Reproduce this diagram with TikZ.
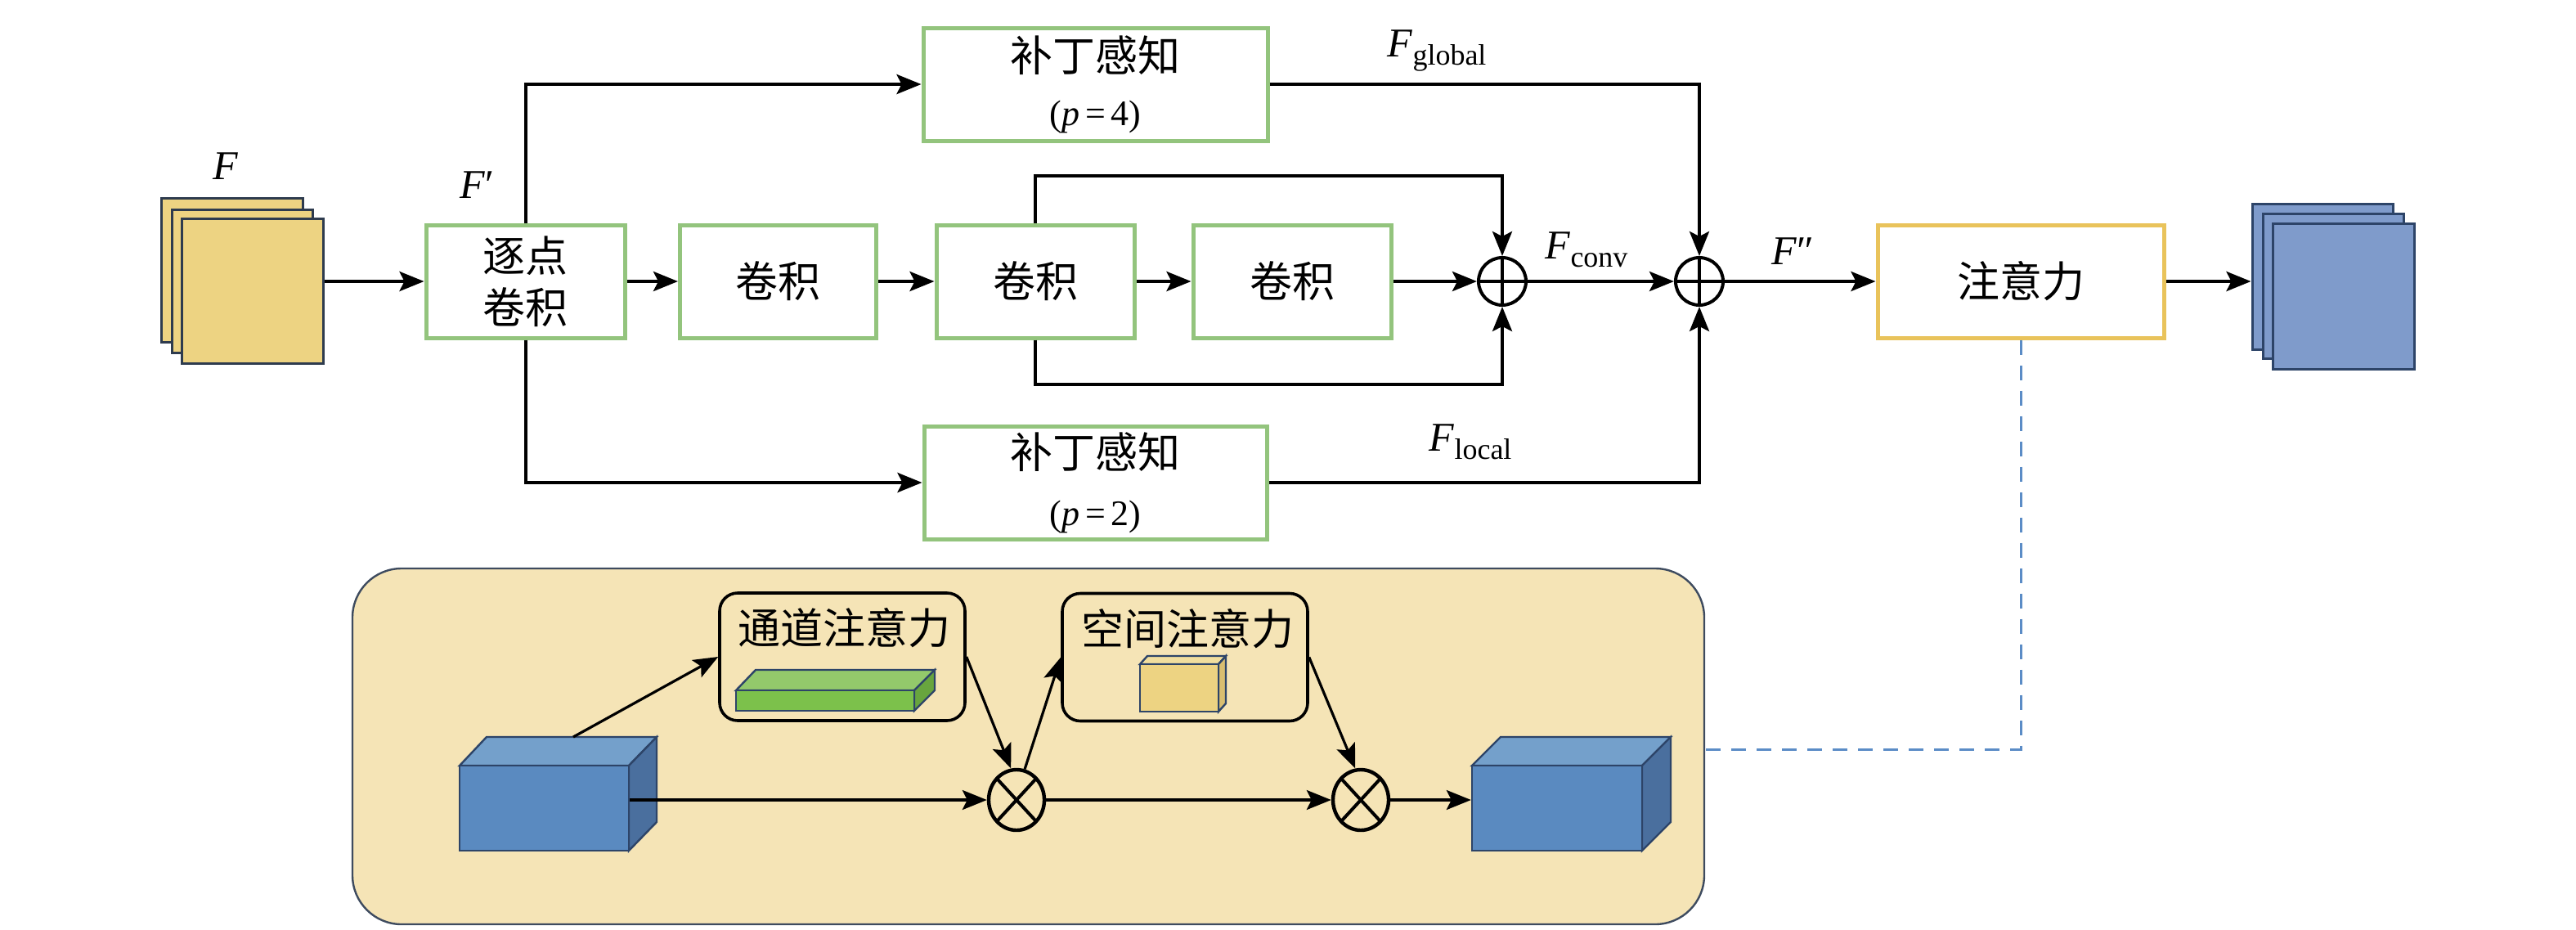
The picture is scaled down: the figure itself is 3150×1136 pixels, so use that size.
\documentclass[tikz,border=0pt]{standalone}
\usepackage{fontspec}
\setmainfont{Liberation Serif}
\newfontfamily\cjk{Noto Sans CJK SC}
\usetikzlibrary{arrows.meta,shapes.geometric,calc}
\definecolor{sheetYf}{HTML}{EDD382}
\definecolor{sheetYd}{HTML}{2E3B4E}
\definecolor{sheetBf}{HTML}{7F9BCB}
\definecolor{sheetBd}{HTML}{2D4468}
\definecolor{boxgreen}{HTML}{93C47D}
\definecolor{boxyellow}{HTML}{E9C35B}
\definecolor{bigfill}{HTML}{F5E4B6}
\definecolor{bigdraw}{HTML}{3E4B5F}
\definecolor{cubeF}{HTML}{5A8AC0}
\definecolor{cubeT}{HTML}{74A0CB}
\definecolor{cubeS}{HTML}{4A6F9E}
\definecolor{cubeE}{HTML}{2D4468}
\definecolor{slabF}{HTML}{7CC14B}
\definecolor{slabT}{HTML}{93C96B}
\definecolor{slabS}{HTML}{68A53E}
\definecolor{ycF}{HTML}{EDD382}
\definecolor{ycT}{HTML}{F1DE9E}
\definecolor{ycS}{HTML}{D9BE70}
\definecolor{dashblue}{HTML}{5B8CC6}
\begin{document}
\begin{tikzpicture}[x=0.5pt,y=-0.5pt,
  arr/.style={line width=2pt,-{Stealth[length=15pt,width=12pt,inset=3pt]}},
  arrb/.style={line width=1.6pt,-{Stealth[length=15pt,width=12pt,inset=3pt]}},
  gbox/.style={draw=boxgreen,line width=2.5pt,fill=white,minimum height=69pt,inner sep=0pt,align=center,font=\fontsize{26}{32}\selectfont\cjk},
  abox/.style={draw=boxyellow,line width=2.5pt,fill=white,minimum height=69pt,minimum width=175pt,inner sep=0pt,font=\fontsize{26}{32}\selectfont\cjk},
  sheetY/.style={draw=sheetYd,fill=sheetYf,line width=1.5pt,inner sep=0pt},
  sheetB/.style={draw=sheetBd,fill=sheetBf,line width=1.5pt,inner sep=0pt},
  oplus/.style={circle,draw,line width=2pt,minimum size=29pt,inner sep=0pt,
    path picture={\draw[line width=2pt] (path picture bounding box.north) -- (path picture bounding box.south) (path picture bounding box.west) -- (path picture bounding box.east);}},
  otimes/.style={ellipse,draw,line width=2.2pt,minimum width=34pt,minimum height=37pt,inner sep=0pt,
    path picture={\draw[line width=2pt] (path picture bounding box.north west) -- (path picture bounding box.south east) (path picture bounding box.north east) -- (path picture bounding box.south west);}},
  rbox/.style={draw=black,line width=1.8pt,rounded corners=11pt,minimum width=150pt,minimum height=78pt,inner sep=0pt},
  lab/.style={font=\fontsize{25}{30}\selectfont,inner sep=0pt},
  cjklab/.style={font=\fontsize{26}{32}\selectfont\cjk,inner sep=0pt},
  dashline/.style={draw=dashblue,line width=1.5pt,dash pattern=on 9pt off 6.5pt},
  cubeface/.style={draw=cubeE,line width=1.2pt}
]
\useasboundingbox (0,0) rectangle (3150,1136);
\fill[white] (0,0) rectangle (3150,1136);

% ---------- upper pipeline ----------
\node[sheetY,minimum width=86.5pt,minimum height=88pt] (fb) at (283.5,330) {};
\node[sheetY,minimum width=86pt,minimum height=87.5pt] (fm) at (296,343.5) {};
\node[sheetY,minimum width=86.5pt,minimum height=88.5pt] (ff) at (308.5,355.5) {};
\node[lab] (lF) at (276,203) {\textit{F}};

\node[gbox,minimum width=121.5pt,font=\fontsize{26}{31.5}\selectfont\cjk] (pw) at (642.5,344) {逐点\\卷积};
\node[lab] (lFp) at (583,226) {\textit{F}′};
\node[gbox,minimum width=120pt] (c1) at (951.5,344) {卷积};
\node[gbox,minimum width=121pt] (c2) at (1266,344) {卷积};
\node[gbox,minimum width=121pt] (c3) at (1580,344) {卷积};
\node[oplus] (op1) at (1837,344) {};
\node[oplus] (op2) at (2078,344) {};
\node[gbox,minimum width=210.5pt,font=\fontsize{26}{33}\selectfont\cjk] (p4) at (1339.5,103) {补丁感知\\{\rmfamily\fontsize{22}{33}\selectfont (\textit{p}\hspace{0.15em}=\hspace{0.15em}4)}};
\node[gbox,minimum width=209.5pt,font=\fontsize{26}{35}\selectfont\cjk] (p2) at (1339.5,590) {补丁感知\\{\rmfamily\fontsize{22}{35}\selectfont (\textit{p}\hspace{0.15em}=\hspace{0.15em}2)}};
\node[abox] (att) at (2471,344) {注意力};
\node[sheetB,minimum width=86pt,minimum height=89pt] (ob) at (2840,338) {};
\node[sheetB,minimum width=86pt,minimum height=88.5pt] (om) at (2853,349.5) {};
\node[sheetB,minimum width=86.5pt,minimum height=89pt] (of) at (2865.5,362) {};

\node[lab] (lFg) at (1757,62) {\textit{F}\raisebox{-5pt}{\fontsize{18}{20}\selectfont global}};
\node[lab] (lFl) at (1798,540) {\textit{F}\raisebox{-5pt}{\fontsize{18}{20}\selectfont local}};
\node[lab] (lFc) at (1940,305) {\textit{F}\raisebox{-5pt}{\fontsize{18}{20}\selectfont conv}};
\node[lab] (lFpp) at (2192,307) {\textit{F}″};

\coordinate (skt) at (1266,215);
\coordinate (skb) at (1266,470);

\draw[arr] (ff.east |- pw.west) -- (pw.west);
\draw[arr] (pw.east) -- (c1.west);
\draw[arr] (c1.east) -- (c2.west);
\draw[arr] (c2.east) -- (c3.west);
\draw[arr] (c3.east) -- (op1.west);
\draw[arr] (c2.north) -- (skt) -| (op1.north);
\draw[arr] (c2.south) -- (skb) -| (op1.south);
\draw[arr] (op1.east) -- (op2.west);
\draw[arr] (pw.north) |- (p4.west);
\draw[arr] (pw.south) |- (p2.west);
\draw[arr] (p4.east) -| (op2.north);
\draw[arr] (p2.east) -| (op2.south);
\draw[arr] (op2.east) -- (att.west);
\draw[arr] (att.east) -- (att.east -| ob.west);

% ---------- lower attention detail ----------
\node[draw=bigdraw,fill=bigfill,line width=1.2pt,rounded corners=30pt,minimum width=826.5pt,minimum height=217.5pt,inner sep=0pt] (big) at (1257.5,912.5) {};

\coordinate (dk) at (2471,916);
\draw[dashline] (att.south) -- (dk) -- (dk -| big.east);

% input cube
\filldraw[cubeface,fill=cubeT] (562,936) -- (595,901) -- (803,901) -- (769,936) -- cycle;
\filldraw[cubeface,fill=cubeS] (769,936) -- (803,901) -- (803,1005) -- (769,1040) -- cycle;
\node[cubeface,fill=cubeF,minimum width=103.5pt,minimum height=52pt,inner sep=0pt] (inc) at (665.5,988) {};
\coordinate (inctop) at (701,901);

% channel attention
\node[rbox] (cha) at (1030,803) {};
\node[cjklab] (chat) at (1032,768) {通道注意力};
\filldraw[cubeface,fill=slabT] (900,844) -- (924,819) -- (1143,819) -- (1118,844) -- cycle;
\filldraw[cubeface,fill=slabS] (1118,844) -- (1143,819) -- (1143,844) -- (1118,869) -- cycle;
\filldraw[cubeface,fill=slabF] (900,844) rectangle (1118,869);

% spatial attention
\node[rbox] (spa) at (1449,803.5) {};
\node[cjklab] (spat) at (1452,769) {空间注意力};
\filldraw[cubeface,fill=ycT] (1394,812) -- (1403,802) -- (1499,802) -- (1490,812) -- cycle;
\filldraw[cubeface,fill=ycS] (1490,812) -- (1499,802) -- (1499,860) -- (1490,870) -- cycle;
\filldraw[cubeface,fill=ycF] (1394,812) rectangle (1490,870);

\node[otimes] (ot1) at (1243,978) {};
\node[otimes] (ot2) at (1664,978) {};

% output cube
\filldraw[cubeface,fill=cubeT] (1800,936) -- (1835,901) -- (2043,901) -- (2008,936) -- cycle;
\filldraw[cubeface,fill=cubeS] (2008,936) -- (2043,901) -- (2043,1005) -- (2008,1040) -- cycle;
\node[cubeface,fill=cubeF,minimum width=104pt,minimum height=52pt,inner sep=0pt] (outc) at (1904,988) {};

\draw[arrb] (inctop) -- (cha.west);
\draw[arrb] (ot1.west -| inc.east) -- (ot1.west);
\draw[arrb] (cha.east) -- (ot1.100);
\draw[arrb] (ot1.75) -- (spa.west);
\draw[arrb] (spa.east) -- (ot2.100);
\draw[arrb] (ot1.east) -- (ot2.west);
\draw[arrb] (ot2.east) -- (ot2.east -| outc.west);
\end{tikzpicture}
\end{document}
